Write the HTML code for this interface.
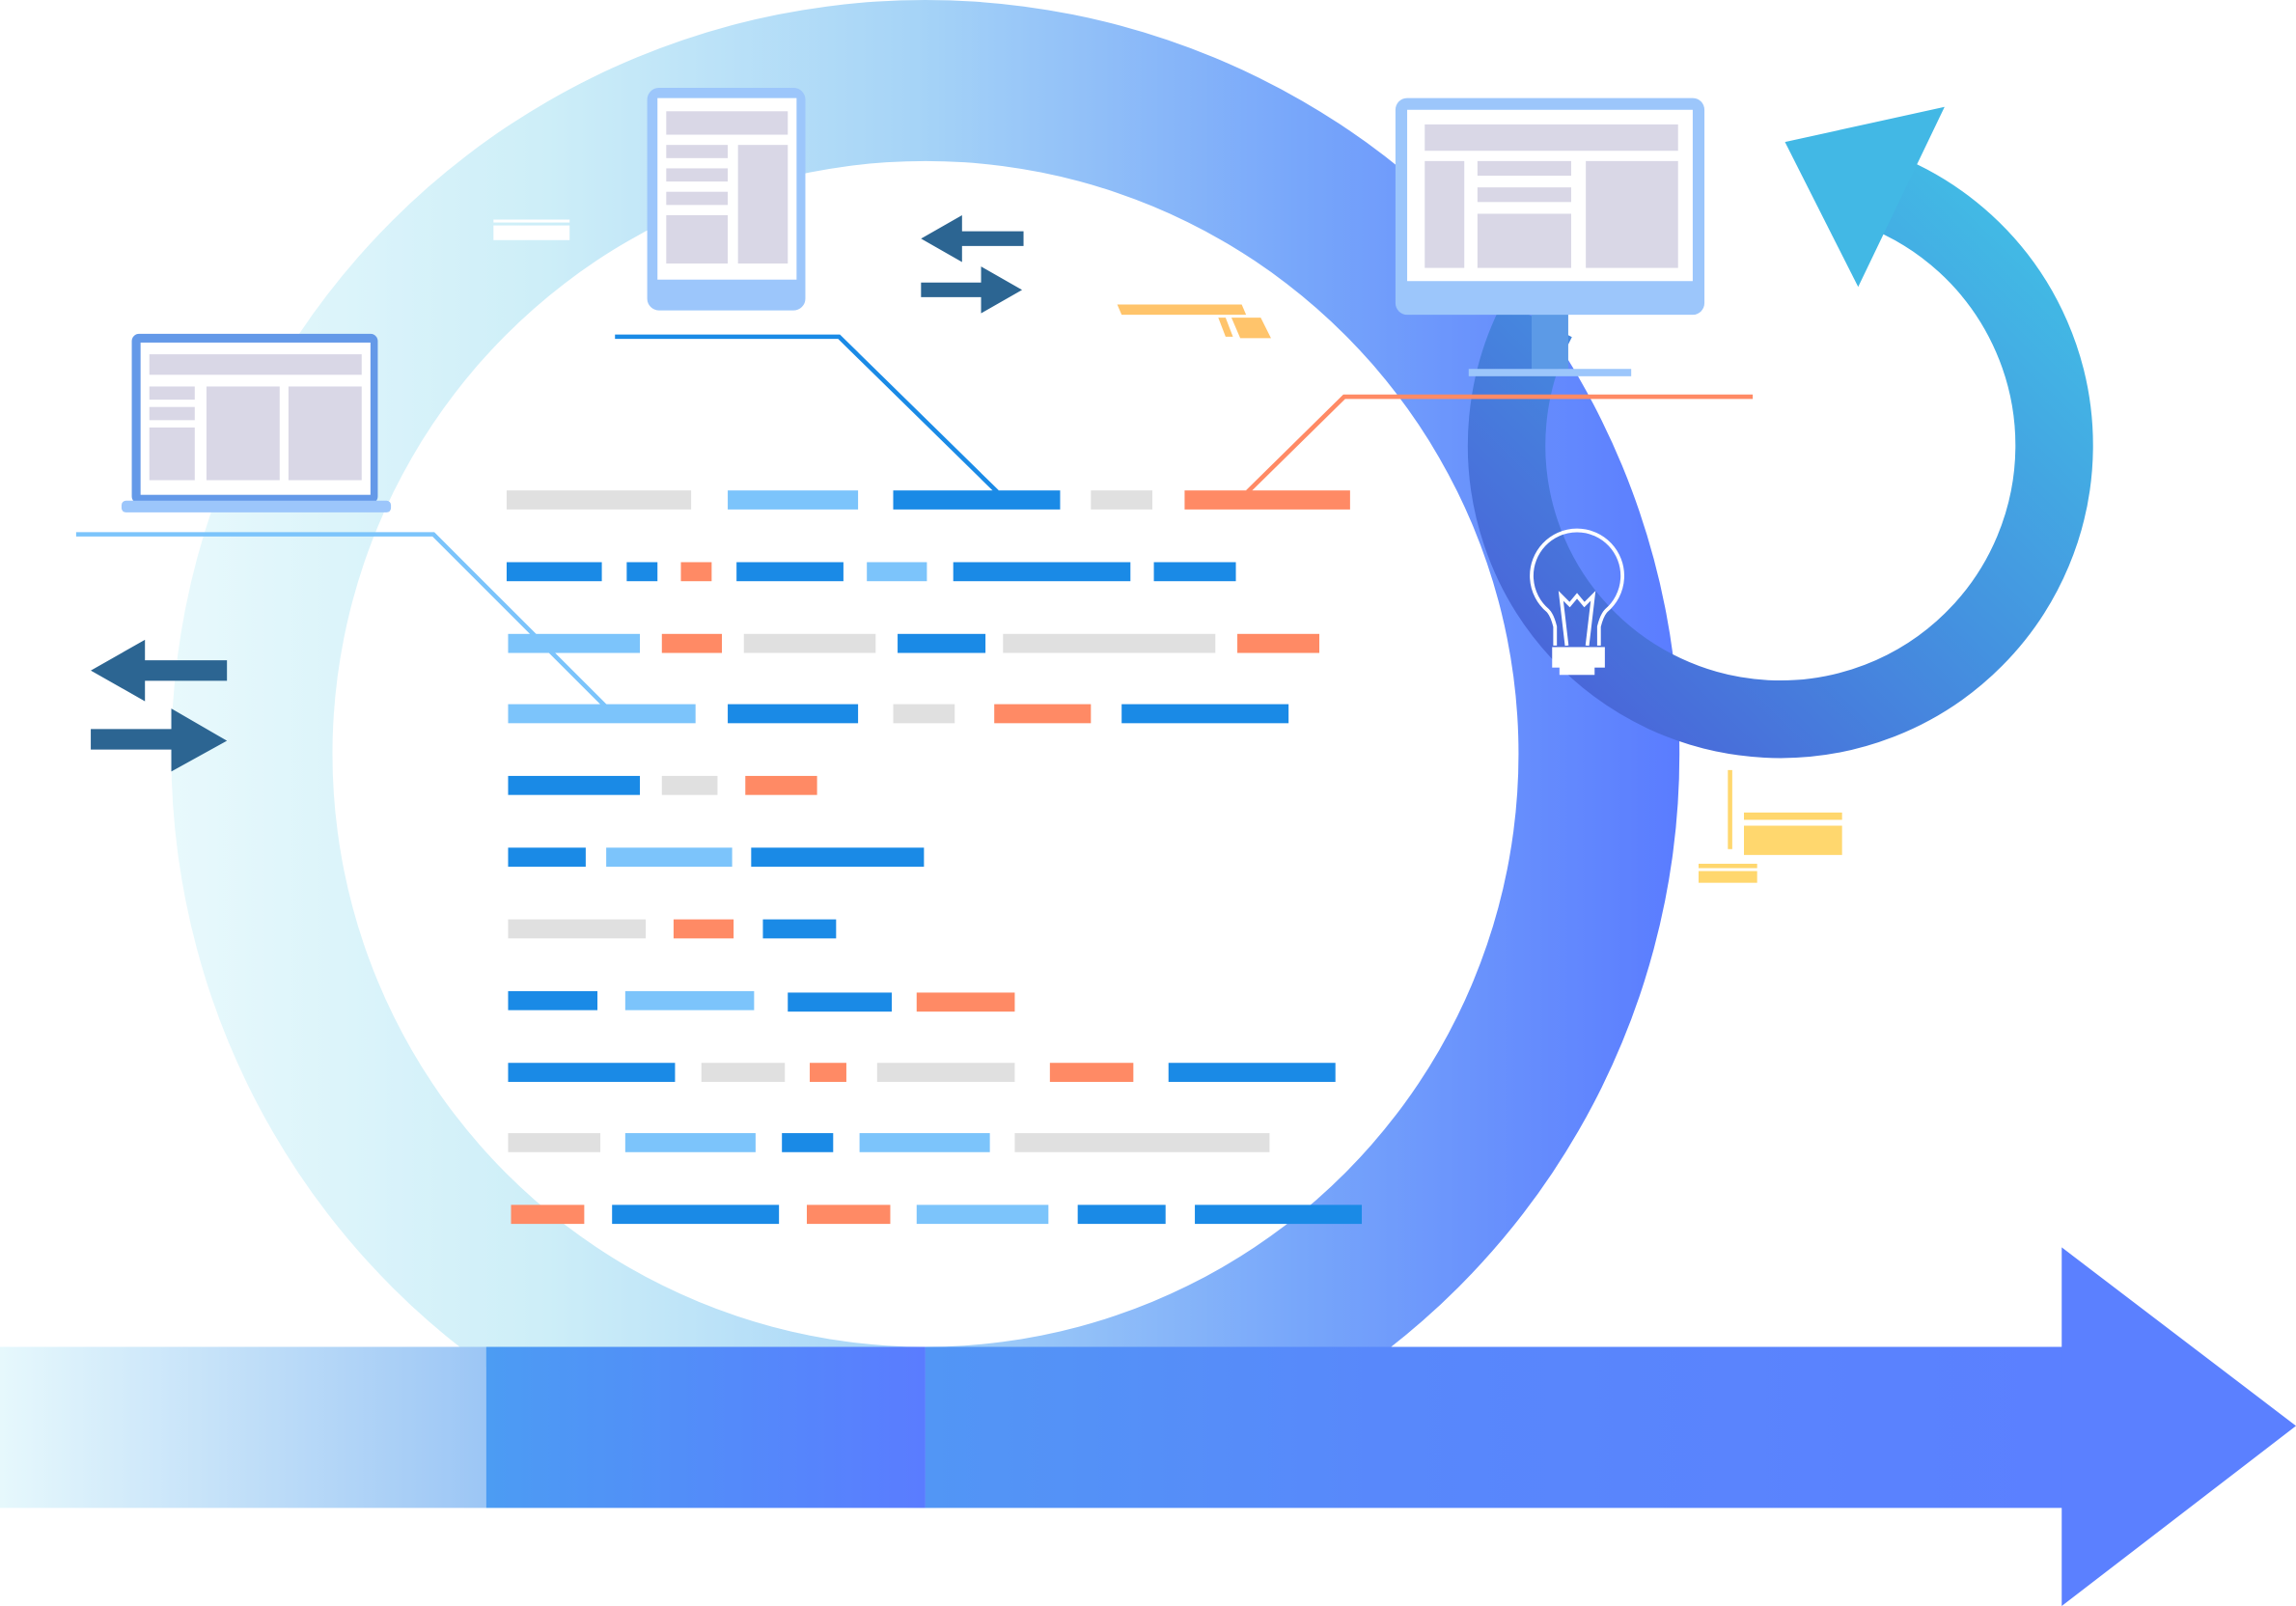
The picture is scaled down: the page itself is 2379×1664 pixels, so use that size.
<!DOCTYPE html>
<html><head><meta charset="utf-8"><style>html,body{margin:0;padding:0;background:#fff}svg{display:block}</style></head><body>
<svg width="2379" height="1664" viewBox="0 0 1568 1097" preserveAspectRatio="none" xmlns="http://www.w3.org/2000/svg">
<defs>
<linearGradient id="ring" x1="117" y1="0" x2="1147" y2="0" gradientUnits="userSpaceOnUse">
<stop offset="0" stop-color="#e8f9fc"/><stop offset="0.25" stop-color="#cdeef8"/><stop offset="0.5" stop-color="#a5d3f7"/><stop offset="0.75" stop-color="#77a6fa"/><stop offset="1" stop-color="#5a7cff"/></linearGradient>
<linearGradient id="b1" x1="0" y1="0" x2="332" y2="0" gradientUnits="userSpaceOnUse"><stop offset="0" stop-color="#e6f8fc"/><stop offset="1" stop-color="#9cc6f5"/></linearGradient>
<linearGradient id="b2" x1="332" y1="0" x2="632" y2="0" gradientUnits="userSpaceOnUse"><stop offset="0" stop-color="#4c9cf3"/><stop offset="1" stop-color="#5a7cff"/></linearGradient>
<linearGradient id="b3" x1="632" y1="0" x2="1408" y2="0" gradientUnits="userSpaceOnUse"><stop offset="0" stop-color="#5296f5"/><stop offset="0.4" stop-color="#5888fb"/><stop offset="1" stop-color="#5b80ff"/></linearGradient>
<linearGradient id="ca" x1="1400" y1="120" x2="1050" y2="480" gradientUnits="userSpaceOnUse"><stop offset="0" stop-color="#42c2e6"/><stop offset="0.5" stop-color="#4494e0"/><stop offset="1" stop-color="#4a62d8"/></linearGradient>
</defs>
<path fill-rule="evenodd" fill="url(#ring)" d="M632 0 A515 515 0 1 1 631.9 0 Z M632 110 A405 405 0 1 0 632.1 110 Z"/>
<path d="M1281 129 A187 187 0 1 1 1050 218" fill="none" stroke="url(#ca)" stroke-width="53"/>
<polygon points="1219,97 1328,73 1269,196" fill="#42b8e5"/>
<rect x="0" y="920" width="332" height="110" fill="url(#b1)"/>
<rect x="332" y="920" width="300" height="110" fill="url(#b2)"/>
<rect x="632" y="920" width="777" height="110" fill="url(#b3)"/>
<polygon points="1408,852 1568,974 1408,1097" fill="#5b80ff"/>
<polyline points="52,365 296,365 414,483" fill="none" stroke="#7cc4fb" stroke-width="3"/>
<polyline points="420,230 573,230 681,336" fill="none" stroke="#1a8ae6" stroke-width="3"/>
<polyline points="852,336 918,271 1197,271" fill="none" stroke="#ff8a65" stroke-width="3"/>
<rect x="90" y="228" width="168" height="116" rx="5" fill="#6499e8"/>
<rect x="96" y="234" width="157" height="104" fill="#fff"/>
<rect x="83" y="342" width="184" height="8" rx="3" fill="#9cc6fb"/>
<g fill="#d9d7e6"><rect x="102" y="242" width="145" height="14"/><rect x="102" y="264" width="31" height="9"/><rect x="102" y="278" width="31" height="9"/><rect x="102" y="292" width="31" height="36"/><rect x="141" y="264" width="50" height="64"/><rect x="197" y="264" width="50" height="64"/></g>
<rect x="442" y="60" width="108" height="152" rx="8" fill="#9cc6fb"/>
<rect x="449" y="67" width="95" height="124" fill="#fff"/>
<g fill="#d9d7e6"><rect x="455" y="76" width="83" height="16"/><rect x="455" y="99" width="42" height="9"/><rect x="455" y="115" width="42" height="9"/><rect x="455" y="131" width="42" height="9"/><rect x="455" y="147" width="42" height="33"/><rect x="504" y="99" width="34" height="81"/></g>
<rect x="1046" y="212" width="25" height="40" fill="#5c9ae6"/>
<rect x="1003" y="252" width="111" height="5" fill="#9cc6fb"/>
<rect x="953" y="67" width="211" height="148" rx="8" fill="#9cc6fb"/>
<rect x="961" y="75" width="195" height="117" fill="#fff"/>
<g fill="#d9d7e6"><rect x="973" y="85" width="173" height="18"/><rect x="973" y="110" width="27" height="73"/><rect x="1009" y="110" width="64" height="10"/><rect x="1009" y="128" width="64" height="10"/><rect x="1009" y="146" width="64" height="37"/><rect x="1083" y="110" width="63" height="73"/></g>
<g fill="#2c6592">
<polygon points="62,458 99,437 99,451 155,451 155,465 99,465 99,479"/>
<polygon points="155,506 117,484 117,498 62,498 62,512 117,512 117,527"/>
<polygon points="629,163 657,147 657,158 699,158 699,168 657,168 657,179"/>
<polygon points="698,198 670,182 670,193 629,193 629,203 670,203 670,214"/>
</g>
<g fill="#fff"><rect x="337" y="150" width="52" height="2"/><rect x="337" y="154" width="52" height="10"/></g>
<g fill="#ffc46b"><polygon points="763,208 848,208 851,215 766,215"/><polygon points="832,217 837,217 842,230 837,230"/><polygon points="841,217 861,217 868,231 847,231"/></g>
<g fill="#ffd76e"><rect x="1180" y="526" width="3" height="54"/><rect x="1191" y="555" width="67" height="5"/><rect x="1191" y="564" width="67" height="20"/><rect x="1160" y="590" width="40" height="3"/><rect x="1160" y="595" width="40" height="8"/></g>
<g fill="none" stroke="#fff" stroke-width="2.5">
<path d="M1062 441 L1062 428 Q1060 420 1057 417 A31 31 0 1 1 1097 417 Q1094 420 1092 428 L1092 441"/>
<path d="M1070 441 L1066 407 L1072 413 L1077 407 L1082 413 L1088 407 L1084 441"/>
</g>
<g fill="#fff"><rect x="1060" y="442" width="36" height="14"/><rect x="1065" y="455" width="24" height="6"/></g>
<g>
<g fill="#e0e0e0"><rect x="346" y="335" width="126" height="13"/><rect x="745" y="335" width="42" height="13"/><rect x="508" y="433" width="90" height="13"/><rect x="685" y="433" width="145" height="13"/><rect x="610" y="481" width="42" height="13"/><rect x="452" y="530" width="38" height="13"/><rect x="347" y="628" width="94" height="13"/><rect x="479" y="726" width="57" height="13"/><rect x="599" y="726" width="94" height="13"/><rect x="347" y="774" width="63" height="13"/><rect x="693" y="774" width="174" height="13"/></g>
<g fill="#7cc4fb"><rect x="497" y="335" width="89" height="13"/><rect x="592" y="384" width="41" height="13"/><rect x="347" y="433" width="90" height="13"/><rect x="347" y="481" width="128" height="13"/><rect x="414" y="579" width="86" height="13"/><rect x="427" y="677" width="88" height="13"/><rect x="427" y="774" width="89" height="13"/><rect x="587" y="774" width="89" height="13"/><rect x="626" y="823" width="90" height="13"/></g>
<g fill="#1a8ae6"><rect x="610" y="335" width="114" height="13"/><rect x="346" y="384" width="65" height="13"/><rect x="428" y="384" width="21" height="13"/><rect x="503" y="384" width="73" height="13"/><rect x="651" y="384" width="121" height="13"/><rect x="788" y="384" width="56" height="13"/><rect x="613" y="433" width="60" height="13"/><rect x="497" y="481" width="89" height="13"/><rect x="766" y="481" width="114" height="13"/><rect x="347" y="530" width="90" height="13"/><rect x="347" y="579" width="53" height="13"/><rect x="513" y="579" width="118" height="13"/><rect x="521" y="628" width="50" height="13"/><rect x="347" y="677" width="61" height="13"/><rect x="538" y="678" width="71" height="13"/><rect x="347" y="726" width="114" height="13"/><rect x="798" y="726" width="114" height="13"/><rect x="534" y="774" width="35" height="13"/><rect x="418" y="823" width="114" height="13"/><rect x="736" y="823" width="60" height="13"/><rect x="816" y="823" width="114" height="13"/></g>
<g fill="#ff8a65"><rect x="809" y="335" width="113" height="13"/><rect x="465" y="384" width="21" height="13"/><rect x="452" y="433" width="41" height="13"/><rect x="845" y="433" width="56" height="13"/><rect x="679" y="481" width="66" height="13"/><rect x="509" y="530" width="49" height="13"/><rect x="460" y="628" width="41" height="13"/><rect x="626" y="678" width="67" height="13"/><rect x="553" y="726" width="25" height="13"/><rect x="717" y="726" width="57" height="13"/><rect x="349" y="823" width="50" height="13"/><rect x="551" y="823" width="57" height="13"/></g>
</g>
</svg>
</body></html>
